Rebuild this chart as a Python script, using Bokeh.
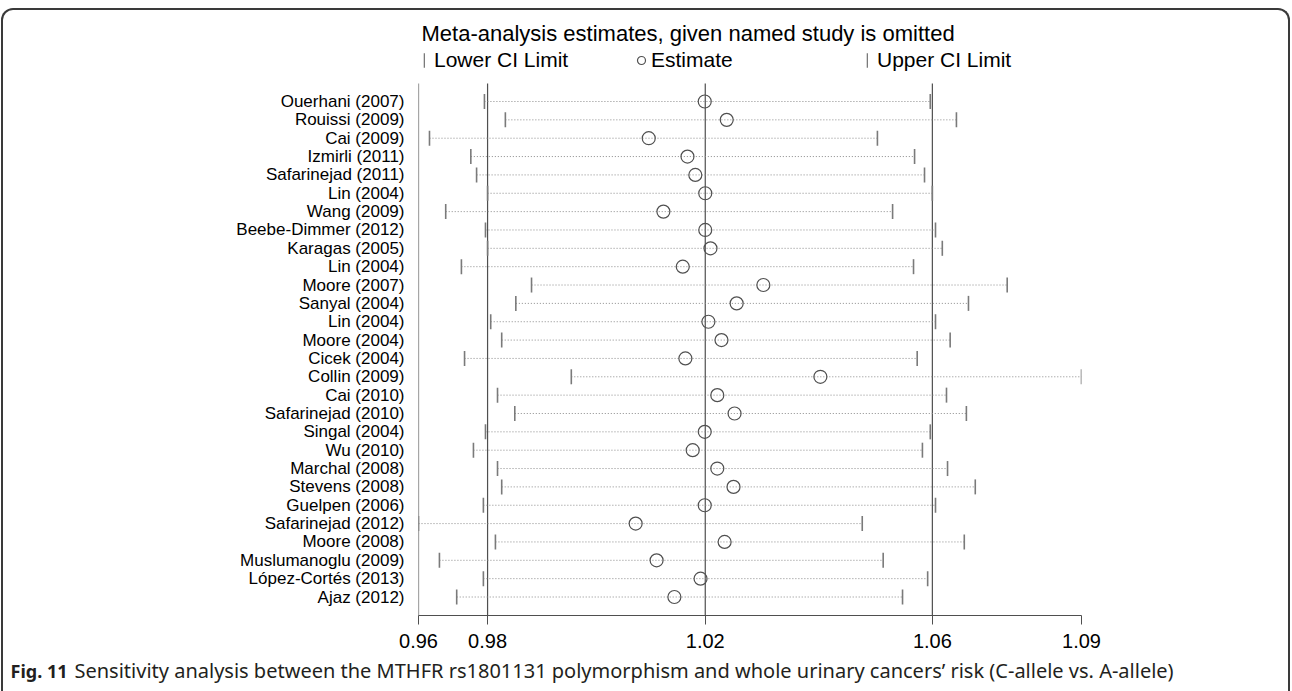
import numpy as np
from bokeh.plotting import figure
from bokeh.layouts import column
from bokeh.models import (Range1d, FixedTicker, Label, Legend, LegendItem,
                          ColumnDataSource)
from bokeh.embed import file_html
from bokeh.resources import INLINE

# Leave-one-out meta-analysis: pooled OR with 95% CI when each study is omitted
studies = [
    "Ouerhani (2007)", "Rouissi (2009)", "Cai (2009)", "Izmirli (2011)",
    "Safarinejad (2011)", "Lin (2004)", "Wang (2009)", "Beebe-Dimmer (2012)",
    "Karagas (2005)", "Lin (2004)", "Moore (2007)", "Sanyal (2004)",
    "Lin (2004)", "Moore (2004)", "Cicek (2004)", "Collin (2009)",
    "Cai (2010)", "Safarinejad (2010)", "Singal (2004)", "Wu (2010)",
    "Marchal (2008)", "Stevens (2008)", "Guelpen (2006)", "Safarinejad (2012)",
    "Moore (2008)", "Muslumanoglu (2009)", "López-Cortés (2013)", "Ajaz (2012)",
]
lower = [
    0.9764, 0.9804, 0.9659, 0.9738, 0.9749, 0.9770, 0.9690, 0.9766,
    0.9770, 0.9720, 0.9854, 0.9824, 0.9776, 0.9797, 0.9726, 0.9930,
    0.9789, 0.9822, 0.9766, 0.9743, 0.9789, 0.9797, 0.9762, 0.9638,
    0.9785, 0.9678, 0.9762, 0.9711,
]
estimate = [
    1.0185, 1.0227, 1.0078, 1.0152, 1.0167, 1.0186, 1.0106, 1.0186,
    1.0196, 1.0143, 1.0297, 1.0246, 1.0192, 1.0217, 1.0148, 1.0406,
    1.0209, 1.0242, 1.0185, 1.0162, 1.0209, 1.0240, 1.0185, 1.0053,
    1.0223, 1.0093, 1.0177, 1.0127,
]
upper = [
    1.0616, 1.0666, 1.0515, 1.0586, 1.0605, 1.0620, 1.0544, 1.0626,
    1.0639, 1.0584, 1.0763, 1.0689, 1.0626, 1.0654, 1.0591, 1.0905,
    1.0647, 1.0685, 1.0616, 1.0601, 1.0649, 1.0702, 1.0626, 1.0486,
    1.0681, 1.0526, 1.0611, 1.0563,
]
# Pooled estimate using all studies
overall_lower = 0.9770
overall_estimate = 1.0186
overall_upper = 1.0620
tick_labels = ["0.96", "0.98", "1.02", "1.06", "1.09"]

rows = list(range(len(studies)))
x_min, x_max = min(lower), max(upper)

src = ColumnDataSource(dict(row=rows, lower=lower, estimate=estimate, upper=upper))

FONT = "Liberation Sans"
LINE = "#4f4f4f"

# vertical extent of the study rows (in row units) and the heading band above them
pad_top, pad_bottom, heading = 0.981, 1.008, 4.523
y_top = rows[0] - pad_top
y_bottom = rows[-1] + pad_bottom

p = figure(width=1292, height=655, output_backend="svg", toolbar_location=None,
           x_range=Range1d(x_min, x_max),
           y_range=Range1d(y_bottom, y_top - heading),
           min_border_left=418, min_border_right=211, min_border_top=0,
           min_border_bottom=40)
p.outline_line_color = None
p.xgrid.visible = False
p.ygrid.visible = False
p.background_fill_alpha = 0
p.border_fill_alpha = 0

# x axis: ticks at the extremes and at the pooled CI / estimate
xt = [x_min, overall_lower, overall_estimate, overall_upper, x_max]
p.xaxis.ticker = FixedTicker(ticks=xt)
p.xaxis.major_label_overrides = {v: s for v, s in zip(xt, tick_labels)}
p.xaxis.minor_tick_line_color = None
p.xaxis.major_tick_out = 9
p.xaxis.major_tick_in = 0
p.xaxis.axis_line_color = LINE
p.xaxis.major_tick_line_color = LINE
p.xaxis.major_label_text_font = FONT
p.xaxis.major_label_text_font_size = "20px"
p.xaxis.major_label_text_color = "black"
p.xaxis.major_label_standoff = 9

# y axis: study names (its line is drawn with the reference lines below)
p.yaxis.ticker = FixedTicker(ticks=rows)
p.yaxis.major_label_overrides = {r: s for r, s in zip(rows, studies)}
p.yaxis.minor_tick_line_color = None
p.yaxis.major_tick_line_color = None
p.yaxis.major_tick_out = 0
p.yaxis.major_tick_in = 0
p.yaxis.axis_line_color = None
p.yaxis.major_label_text_font = FONT
p.yaxis.major_label_text_font_size = "17px"
p.yaxis.major_label_text_color = "black"
p.yaxis.major_label_standoff = 14

# left edge plus pooled CI limits and pooled estimate
ref_x = [x_min, overall_lower, overall_estimate, overall_upper]
p.segment(x0=ref_x, x1=ref_x, y0=[y_top] * 4, y1=[y_bottom] * 4,
          line_color=LINE, line_width=1.2)

# dotted span from lower to upper limit
p.segment(x0="lower", y0="row", x1="upper", y1="row", source=src,
          line_color="#8a8a8a", line_width=1, line_dash="1 2")
r_lo = p.rect(x="lower", y="row", width=1.6, height=15, width_units="screen",
              height_units="screen", source=src, fill_color="#7a7a7a", line_color=None)
r_hi = p.rect(x="upper", y="row", width=1.6, height=15, width_units="screen",
              height_units="screen", source=src, fill_color="#7a7a7a", line_color=None)
r_est = p.scatter(x="estimate", y="row", source=src, marker="circle", size=13,
                  fill_color=None, line_color="#505050", line_width=1.2)

# heading and legend
p.add_layout(Label(x=3, y=615 - 33, x_units="screen", y_units="screen",
                   text="Meta-analysis estimates, given named study is omitted",
                   text_font=FONT, text_font_size="22px", text_baseline="middle",
                   text_color="black"))

def legend_for(renderer, label, vx, gw, gh, standoff):
    return Legend(items=[LegendItem(label=label, renderers=[renderer])],
                  location=(vx, 543), orientation="horizontal",
                  glyph_width=gw, glyph_height=gh, label_standoff=standoff,
                  label_height=22, padding=0, spacing=0, margin=0,
                  border_line_color=None, background_fill_alpha=0,
                  label_text_font=FONT, label_text_font_size="21px",
                  label_text_color="black")

p.add_layout(legend_for(r_lo, "Lower CI Limit", 5, 2, 18, 9))
p.add_layout(legend_for(r_est, "Estimate", 213, 20, 20, 0))
p.add_layout(legend_for(r_hi, "Upper CI Limit", 448, 2, 18, 9))

# figure caption strip
cap = figure(width=1292, height=36, output_backend="svg", toolbar_location=None,
             x_axis_type=None, y_axis_type=None, min_border=0,
             x_range=Range1d(0, 1), y_range=Range1d(0, 1))
cap.outline_line_color = None
cap.xgrid.visible = False
cap.ygrid.visible = False
cap.background_fill_alpha = 0
cap.border_fill_alpha = 0
# keep the caption strip's frame full width instead of lining it up with the chart
for fig in (p, cap):
    if "frame_align" in fig.properties():
        fig.frame_align = False
cap.add_layout(Label(x=10, y=21, x_units="screen", y_units="screen",
                     text="Fig. 11", text_font="Noto Sans", text_font_style="bold",
                     text_font_size="18px", text_baseline="middle", text_color="#231f20"))
cap.add_layout(Label(x=74, y=21, x_units="screen", y_units="screen",
                     text="Sensitivity analysis between the MTHFR rs1801131 polymorphism "
                          "and whole urinary cancers\u2019 risk (C-allele vs. A-allele)",
                     text_font="Noto Sans", text_font_size="20px",
                     text_baseline="middle", text_color="#231f20"))

frame_css = """
:host { position: relative; }
:host::before {
  content: ""; position: absolute; left: 1px; top: 8px; width: 1289px; height: 683px;
  box-sizing: border-box; border: 2px solid #3a3a3a; border-bottom: none;
  border-radius: 12px 12px 0 0; pointer-events: none; z-index: 10;
}
"""
page = column(p, cap, spacing=0, stylesheets=[frame_css])

open("out.html", "w").write(file_html(page, INLINE))
